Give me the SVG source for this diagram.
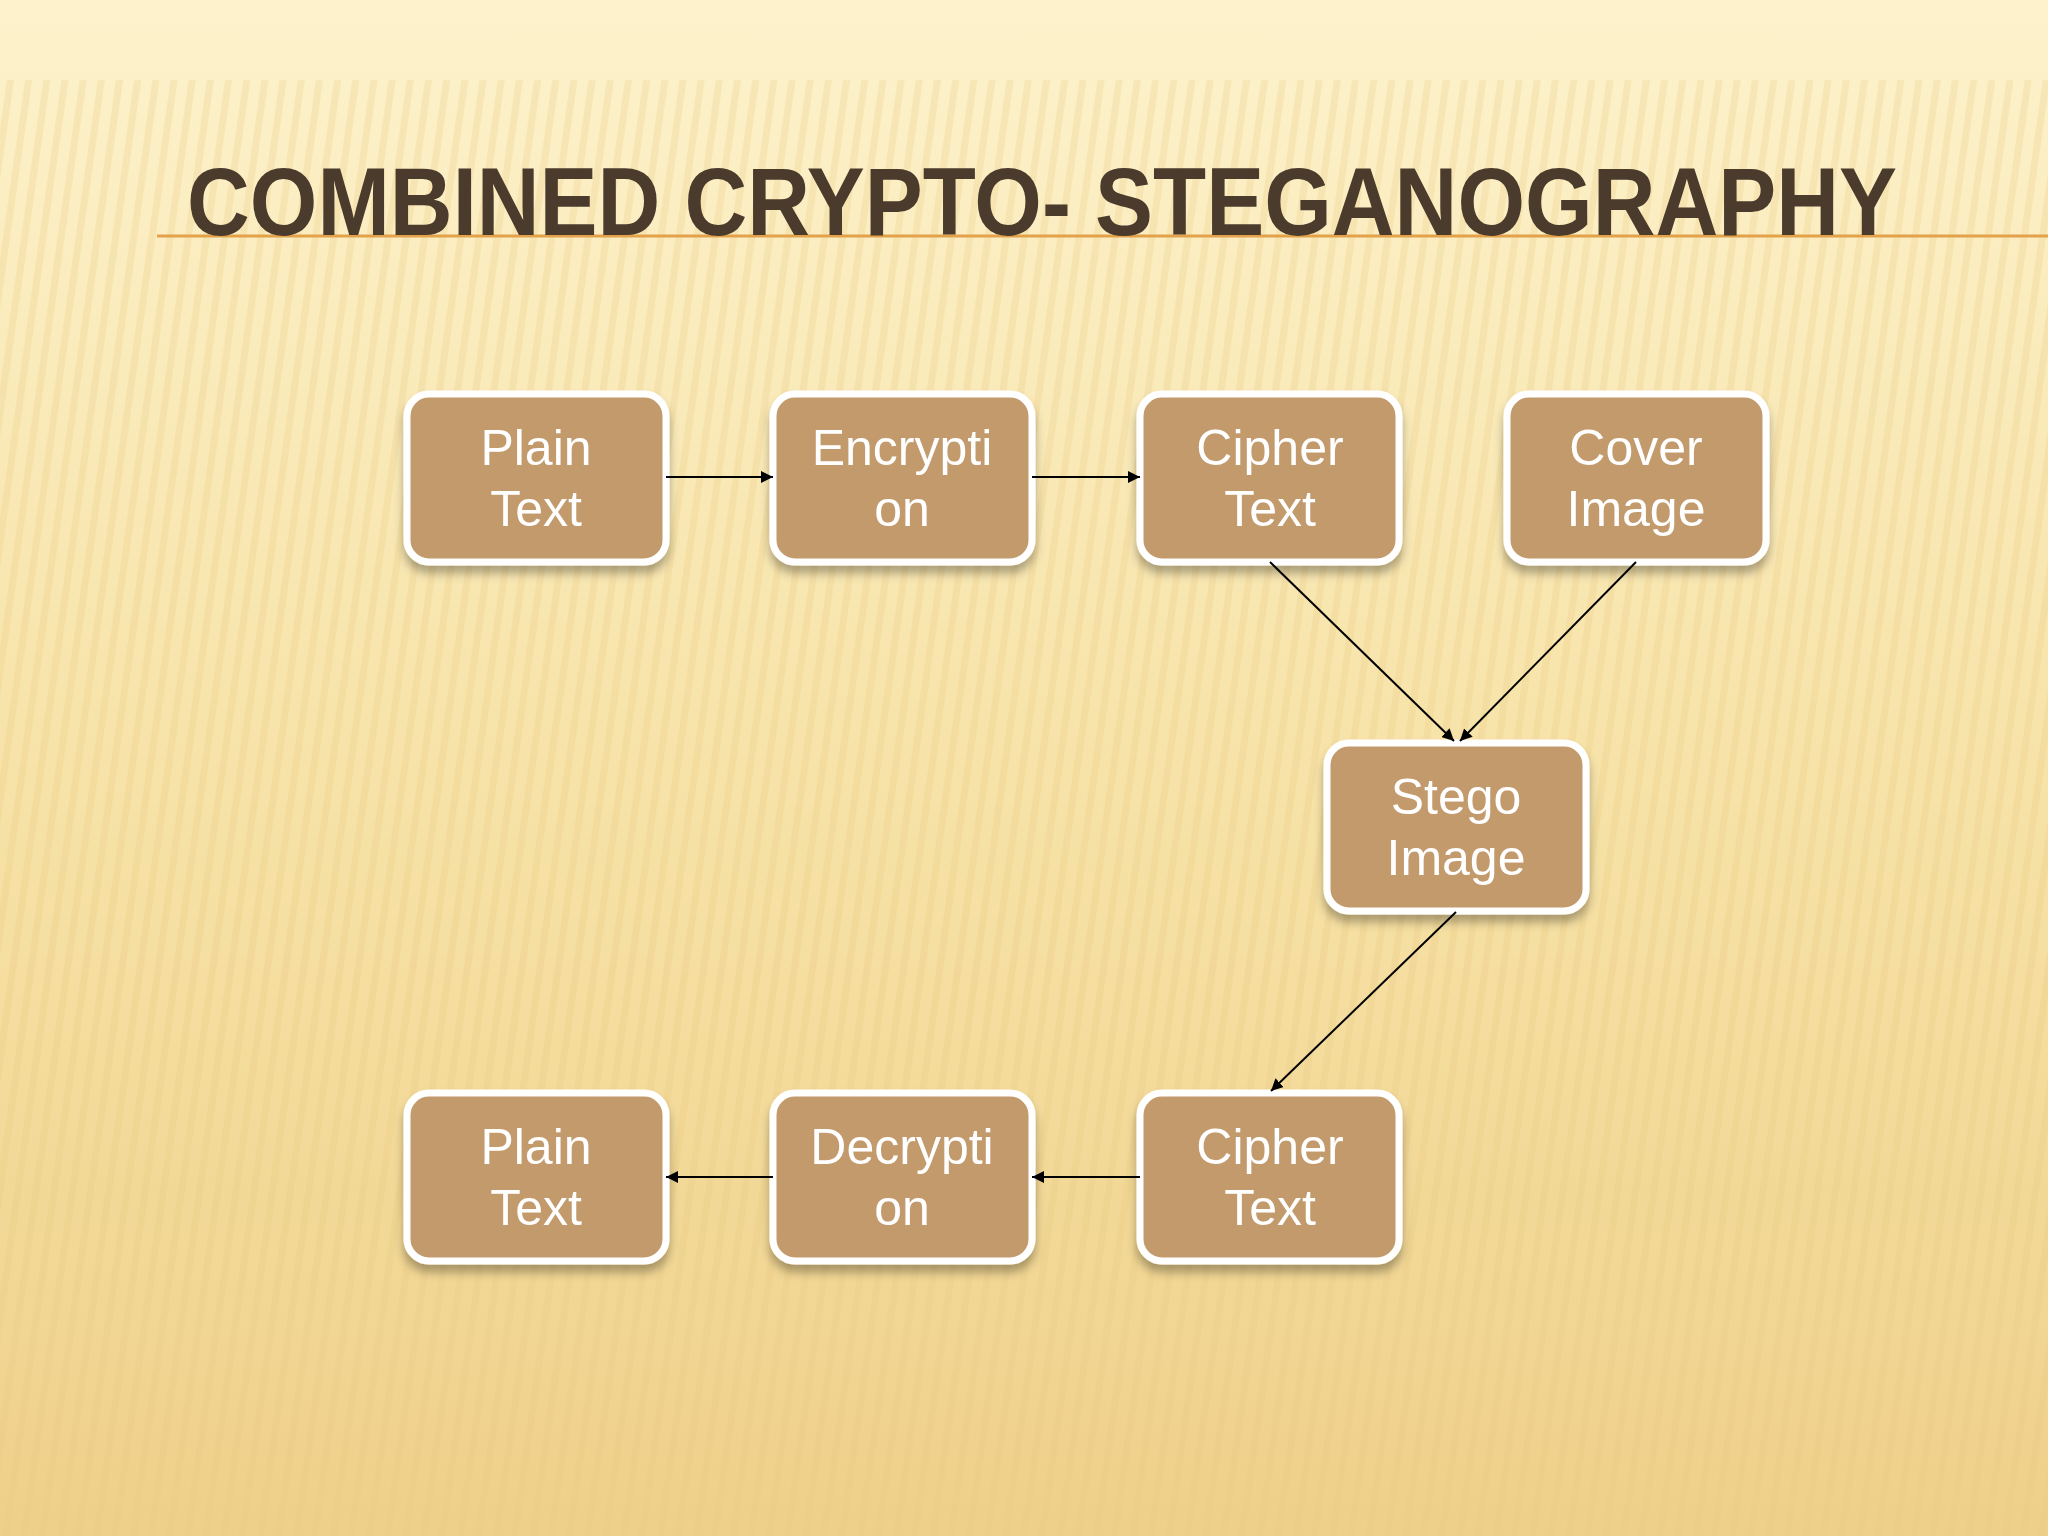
<svg xmlns="http://www.w3.org/2000/svg" width="2048" height="1536" viewBox="0 0 2048 1536">
<defs>
<linearGradient id="bg" x1="0" y1="0" x2="0" y2="1">
<stop offset="0" stop-color="#fdf2cc"/>
<stop offset="0.5" stop-color="#f7e3a8"/>
<stop offset="1" stop-color="#efd08a"/>
</linearGradient>
<pattern id="st" width="18" height="40" patternUnits="userSpaceOnUse" patternTransform="rotate(8)">
<rect width="7" height="40" fill="#e8c77e" opacity="0.25"/>
</pattern>
<filter id="sh" x="-20%" y="-20%" width="140%" height="150%">
<feDropShadow dx="0" dy="8" stdDeviation="5" flood-color="#000" flood-opacity="0.3"/>
</filter>
<marker id="ar" viewBox="0 0 10 10" refX="10" refY="5" markerWidth="6" markerHeight="6" orient="auto">
<path d="M0,0 L10,5 L0,10 z" fill="#000"/>
</marker>
<style>
.box{fill:#c29a6c;stroke:#fff;stroke-width:7;filter:url(#sh)}
.lbl{font-family:"Liberation Sans",Arial,sans-serif;font-size:50px;fill:#fff;text-anchor:middle}
.edge{stroke:#000;stroke-width:2;fill:none;marker-end:url(#ar)}
</style>
</defs>
<rect width="2048" height="1536" fill="url(#bg)"/>
<rect y="80" width="2048" height="1456" fill="url(#st)"/>
<line x1="157" y1="236" x2="2048" y2="236" stroke="#e3a24a" stroke-width="3"/>
<text x="187" y="235" font-family="Liberation Sans Narrow,Liberation Sans,sans-serif" font-weight="bold" font-size="96" fill="#4a3b2c" textLength="1710" lengthAdjust="spacingAndGlyphs">COMBINED CRYPTO- STEGANOGRAPHY</text>
<g id="n1"><rect class="box" x="407" y="394" width="259" height="168" rx="22"/><text class="lbl" x="536" y="465">Plain</text><text class="lbl" x="536" y="526">Text</text></g>
<g id="n2"><rect class="box" x="773" y="394" width="259" height="168" rx="22"/><text class="lbl" x="902" y="465">Encrypti</text><text class="lbl" x="902" y="526">on</text></g>
<g id="n3"><rect class="box" x="1140" y="394" width="259" height="168" rx="22"/><text class="lbl" x="1270" y="465">Cipher</text><text class="lbl" x="1270" y="526">Text</text></g>
<g id="n4"><rect class="box" x="1507" y="394" width="259" height="168" rx="22"/><text class="lbl" x="1636" y="465">Cover</text><text class="lbl" x="1636" y="526">Image</text></g>
<g id="n5"><rect class="box" x="1327" y="743" width="259" height="168" rx="22"/><text class="lbl" x="1456" y="814">Stego</text><text class="lbl" x="1456" y="875">Image</text></g>
<g id="n6"><rect class="box" x="1140" y="1093" width="259" height="168" rx="22"/><text class="lbl" x="1270" y="1164">Cipher</text><text class="lbl" x="1270" y="1225">Text</text></g>
<g id="n7"><rect class="box" x="773" y="1093" width="259" height="168" rx="22"/><text class="lbl" x="902" y="1164">Decrypti</text><text class="lbl" x="902" y="1225">on</text></g>
<g id="n8"><rect class="box" x="407" y="1093" width="259" height="168" rx="22"/><text class="lbl" x="536" y="1164">Plain</text><text class="lbl" x="536" y="1225">Text</text></g>
<g id="edges">
<line class="edge" x1="666" y1="477" x2="773" y2="477"/>
<line class="edge" x1="1032" y1="477" x2="1140" y2="477"/>
<line class="edge" x1="1270" y1="562" x2="1454" y2="741"/>
<line class="edge" x1="1636" y1="562" x2="1460" y2="741"/>
<line class="edge" x1="1456" y1="912" x2="1271" y2="1091"/>
<line class="edge" x1="1140" y1="1177" x2="1032" y2="1177"/>
<line class="edge" x1="773" y1="1177" x2="666" y2="1177"/>
</g>
</svg>
